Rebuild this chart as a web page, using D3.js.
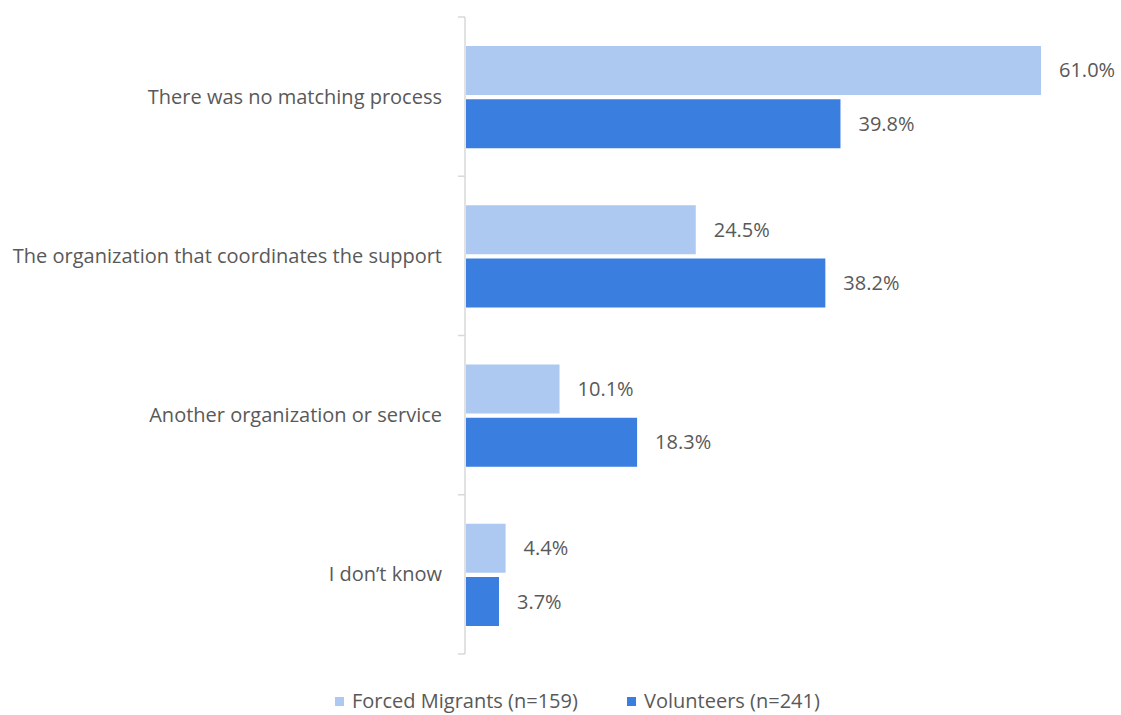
<!DOCTYPE html>
<html>
<head>
<meta charset="utf-8">
<script src="https://cdn.jsdelivr.net/npm/d3@7"></script>
<style>
  body { margin: 0; background: #fff; }
  text { font-family: "Open Sans", "Noto Sans", sans-serif; fill: #595959; }
</style>
</head>
<body>
<div id="chart"></div>
<script>
(function() {
  var width = 1121,
    height = 715;

  var categories = ["There was no matching process", "The organization that coordinates the support", "Another organization or service", "I don\u2019t know"];
  var seriesNames = ["Forced Migrants (n=159)", "Volunteers (n=241)"];
  var migrants = [61.0, 24.5, 10.1, 4.4];
  var volunteers = [39.8, 38.2, 18.3, 3.7];
  var colors = ["#aec9f1", "#3a7fe0"];

  var margin = { top: 17, left: 465, bottom: 61 };

  var svg = d3.select("#chart")
    .append("svg")
    .attr("width", width)
    .attr("height", height)

  var y = d3.scaleBand()
    .domain(categories)
    .range([margin.top, height - margin.bottom])

  var x = d3.scaleLinear().domain([0, 61]).range([margin.left - 1, 1041])

  var y1 = d3.scaleBand()
    .domain([0, 1])
    .range([29, y.bandwidth() - 28])
    .paddingInner(0.08)

  // axis line with ticks at the band edges
  var edges = categories.map(function(c) { return y(c) }).concat([height - margin.bottom])
  svg.append("line")
    .attr("x1", margin.left).attr("x2", margin.left)
    .attr("y1", margin.top).attr("y2", height - margin.bottom)
    .attr("stroke", "#d9d9d9").attr("stroke-width", 1.5)
  svg.selectAll(".tick")
    .data(edges)
    .enter().append("line")
    .attr("x1", margin.left - 7).attr("x2", margin.left)
    .attr("y1", function(d) { return d }).attr("y2", function(d) { return d })
    .attr("stroke", "#d9d9d9").attr("stroke-width", 1.5)

  svg.selectAll(".cat")
    .data(categories)
    .enter().append("text")
    .attr("x", 442)
    .attr("y", function(d) { return y(d) + y.bandwidth() / 2 })
    .attr("dy", "0.35em")
    .attr("text-anchor", "end")
    .style("font-size", "20px")
    .text(function(d) { return d })

  var rows = [];
  categories.forEach(function(c, i) {
    rows.push({ cat: c, s: 0, v: migrants[i] })
    rows.push({ cat: c, s: 1, v: volunteers[i] })
  })

  svg.selectAll(".bar")
    .data(rows)
    .enter().append("rect")
    .attr("x", x(0) + 2)
    .attr("y", function(d) { return y(d.cat) + y1(d.s) })
    .attr("width", function(d) { return x(d.v) - x(0) - 2 })
    .attr("height", y1.bandwidth())
    .attr("fill", function(d) { return colors[d.s] })

  svg.selectAll(".val")
    .data(rows)
    .enter().append("text")
    .attr("x", function(d) { return x(d.v) + 18 })
    .attr("y", function(d) { return y(d.cat) + y1(d.s) + y1.bandwidth() / 2 })
    .attr("dy", "0.35em")
    .style("font-size", "20px")
    .text(function(d) { return d.v.toFixed(1) + "%" })

  // legend
  var legX = [335, 627];
  var legend = svg.selectAll(".leg")
    .data(seriesNames)
    .enter().append("g")
    .attr("transform", function(d, i) { return "translate(" + legX[i] + ",701)" })
  legend.append("rect")
    .attr("x", 0).attr("y", -4)
    .attr("width", 9).attr("height", 9)
    .attr("fill", function(d, i) { return colors[i] })
  legend.append("text")
    .attr("x", 17)
    .attr("dy", "0.35em")
    .style("font-size", "20px")
    .text(function(d) { return d })
})();
</script>
</body>
</html>
